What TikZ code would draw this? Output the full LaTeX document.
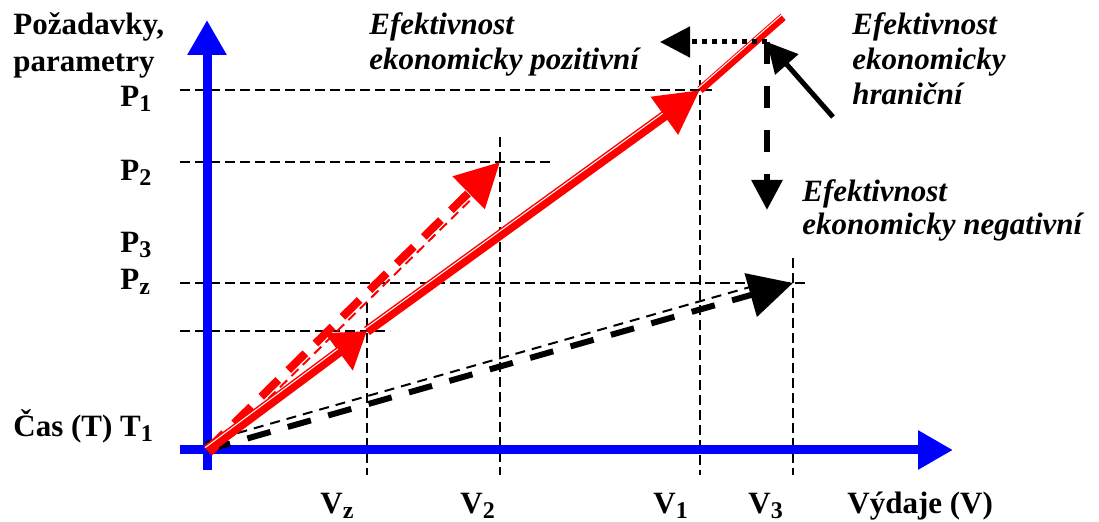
\documentclass[tikz,border=0pt]{standalone}
\usepackage{fontspec}
\setmainfont{Liberation Serif}
\usetikzlibrary{arrows.meta}
\newcommand{\subidx}[1]{\raisebox{-0.35ex}{\fontsize{12}{12}\selectfont #1}}
\begin{document}
\begin{tikzpicture}[x=0.5pt, y=-0.5pt, font=\fontsize{15.5}{18.5}\selectfont\bfseries]
        \tikzset{
            axis/.style={draw=blue, line width=4.5pt, -{Triangle[length=17.5pt, width=18.5pt]}},
            guide/.style={draw=black, line width=0.8pt, dash pattern=on 5pt off 2.5pt},
            redline/.style={draw=red, line width=5pt},
            redgap/.style={draw=white, line width=0.5pt},
            redthick/.style={draw=red, line width=4pt, dash pattern=on 12pt off 7pt},
            redthin/.style={draw=red, line width=1pt, dash pattern=on 5pt off 3pt},
            blackthick/.style={draw=black, line width=3pt, dash pattern=on 12pt off 9pt},
            blackthin/.style={draw=black, line width=1pt, dash pattern=on 5pt off 3.5pt},
            bigtip/.style={-{Triangle[length=22pt, width=22pt]}},
            blacktip/.style={-{Triangle[length=15pt, width=15pt]}},
            labeltext/.style={inner sep=0pt, anchor=base west},
            effect/.style={inner sep=0pt, anchor=base west, align=left, font=\fontsize{15.5}{17.5}\selectfont\bfseries\itshape}
        }
        \useasboundingbox (0,0) rectangle (1099,522);

        % points of the chart
        \coordinate (O) at (207,450);
        \coordinate (Ptop) at (207,20);
        \coordinate (Vend) at (953,450);
        \coordinate (Z) at (367,331);
        \coordinate (A1) at (700,90);
        \coordinate (A1end) at (783,17);
        \coordinate (A2) at (500,162);
        \coordinate (A3) at (793,283);
        \coordinate (K) at (767,42);
        \coordinate (Kleft) at (660,42);
        \coordinate (Kdown) at (767,210);
        \coordinate (Kfrom) at (833,117);

        % guide lines
        \draw[guide] (180,90) -- (712,90);
        \draw[guide] (180,162) -- (552,162);
        \draw[guide] (180,283) -- (807,283);
        \draw[guide] (180,331) -- (390,331);
        \draw[guide] (367,303) -- (367,475);
        \draw[guide] (500,137) -- (500,475);
        \draw[guide] (700,65) -- (700,475);
        \draw[guide] (793,258) -- (793,475);

        % axes
        \draw[axis] (207,470) -- (Ptop);
        \draw[axis] (180,450) -- (Vend);

        % black dashed arrow
        \draw[blackthin, shorten >=20pt] ([shift={(-2.2,-7.6)}]O) -- ([shift={(-2.2,-7.6)}]A3);
        \draw[blackthick, bigtip] (O) -- (A3);

        % red dashed arrow
        \draw[redthin, shorten >=20pt] ([shift={(4.5,4.6)}]O) -- ([shift={(4.5,4.6)}]A2);
        \draw[redthick, bigtip] (O) -- (A2);

        % red solid arrow
        \draw[redline, -{Triangle[length=17.5pt, width=22pt]}] (O) -- (Z);
        \draw[redline, bigtip] (Z) -- (A1);
        \draw[redline, line width=4pt] (A1) -- (A1end);
        \draw[redgap, shorten >=17pt] ([shift={(-1.8,-2.4)}]O) -- ([shift={(-1.8,-2.4)}]Z);
        \draw[redgap, shorten >=22pt] ([shift={(-1.8,-2.4)}]Z) -- ([shift={(-1.8,-2.4)}]A1);
        \draw[redgap] ([shift={(-1.6,-1.9)}]A1) -- ([shift={(-1.6,-1.9)}]A1end);

        % borderline effectiveness
        \draw[black, line width=2.5pt, dash pattern=on 2.5pt off 2.5pt, blacktip] (K) -- (Kleft);
        \draw[black, line width=3pt, dash pattern=on 11pt off 11pt, blacktip] (K) -- (Kdown);
        \draw[black, line width=2.5pt, blacktip] (Kfrom) -- (K);

        % labels
        \node[labeltext, align=left] (ylab) at (13,72) {Požadavky,\\parametry};
        \node[labeltext] (p1) at (120,107) {P\subidx{1}};
        \node[labeltext] (p2) at (120,181) {P\subidx{2}};
        \node[labeltext] (p3) at (120,253) {P\subidx{3}};
        \node[labeltext] (pz) at (120,290) {P\subidx{z}};
        \node[labeltext] (t1) at (13,437) {Čas (T) T\subidx{1}};
        \node[labeltext] (vz) at (320,514) {V\subidx{z}};
        \node[labeltext] (v2) at (460,514) {V\subidx{2}};
        \node[labeltext] (v1) at (653,514) {V\subidx{1}};
        \node[labeltext] (v3) at (748,514) {V\subidx{3}};
        \node[labeltext] (xlab) at (847,514) {Výdaje (V)};
        \node[effect] (pos) at (369,70) {Efektivnost\\ekonomicky pozitivní};
        \node[effect] (lim) at (852,105) {Efektivnost\\ekonomicky\\hraniční};
        \node[effect, font=\fontsize{15.5}{16.5}\selectfont\bfseries\itshape] (neg) at (802,235) {Efektivnost\\ekonomicky negativní};
\end{tikzpicture}
\end{document}
